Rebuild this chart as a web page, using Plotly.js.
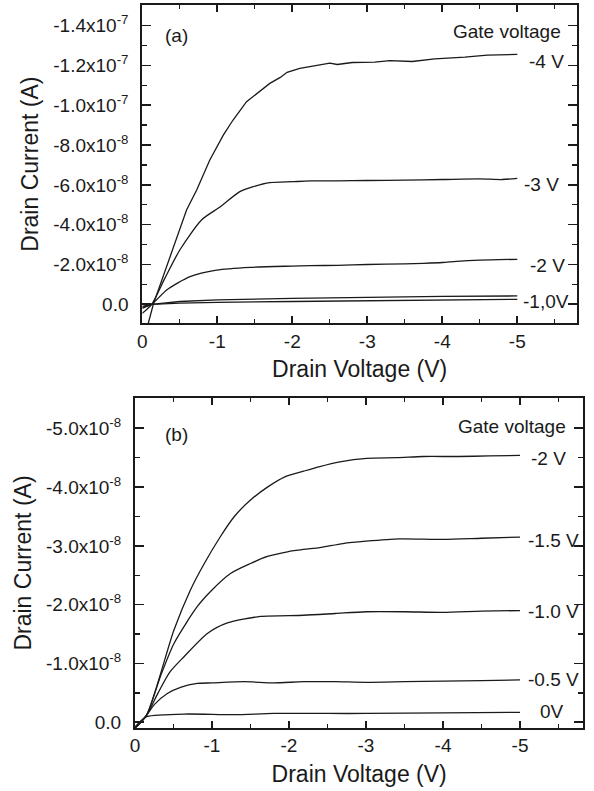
<!DOCTYPE html>
<html>
<head>
<meta charset="utf-8">
<script src="https://cdn.plot.ly/plotly-3.0.1.min.js"></script>
<style>html,body{margin:0;padding:0;background:#fff;}#chart{width:594px;height:791px;}</style>
</head>
<body>
<div id="chart"></div>
<script>
// ---------- Panel (a) data ----------
const vA_m4 = [0, -0.08, -0.147, -0.325, -0.46, -0.59, -0.725, -0.9, -1.08, -1.21, -1.39, -1.525, -1.7, -1.84, -1.93, -2.1, -2.24, -2.5, -2.6, -2.8, -3.1, -3.3, -3.6, -3.9, -4.3, -4.6, -5.0];
const iA_m4 = [1.5e-8, 0.95e-8, 0, -1.89e-8, -3.4e-8, -4.74e-8, -5.74e-8, -7.25e-8, -8.5e-8, -9.26e-8, -10.18e-8, -10.6e-8, -11.1e-8, -11.4e-8, -11.66e-8, -11.86e-8, -11.94e-8, -12.12e-8, -12.05e-8, -12.15e-8, -12.17e-8, -12.24e-8, -12.2e-8, -12.33e-8, -12.42e-8, -12.52e-8, -12.56e-8];
const vA_m3 = [0, -0.125, -0.3, -0.5, -0.79, -1.04, -1.3, -1.48, -1.7, -2.0, -2.24, -2.6, -3.0, -3.5, -4.0, -4.5, -4.8, -5.0];
const iA_m3 = [0.45e-8, 0, -1.3e-8, -2.73e-8, -4.24e-8, -4.9e-8, -5.66e-8, -5.91e-8, -6.11e-8, -6.16e-8, -6.2e-8, -6.2e-8, -6.22e-8, -6.24e-8, -6.27e-8, -6.3e-8, -6.27e-8, -6.33e-8];
const vA_m2 = [0, -0.125, -0.325, -0.636, -0.99, -1.44, -2.0, -2.24, -2.6, -3.0, -3.5, -3.75, -4.0, -4.19, -4.5, -5.0];
const iA_m2 = [0.2e-8, 0, -0.72e-8, -1.39e-8, -1.72e-8, -1.86e-8, -1.92e-8, -1.94e-8, -1.96e-8, -2.0e-8, -2.03e-8, -2.06e-8, -2.1e-8, -2.16e-8, -2.22e-8, -2.26e-8];
const vA_m1 = [0, -0.125, -0.5, -1, -2, -3, -4, -5];
const iA_m1 = [0.15e-8, 0, -0.14e-8, -0.22e-8, -0.3e-8, -0.36e-8, -0.4e-8, -0.42e-8];
const vA_0 = [0, -0.125, -0.5, -1, -2, -3, -4, -5];
const iA_0 = [0.1e-8, 0, -0.06e-8, -0.1e-8, -0.14e-8, -0.17e-8, -0.2e-8, -0.25e-8];

// ---------- Panel (b) data ----------
const vB_m2 = [0, -0.15, -0.506, -0.72, -0.9, -1.11, -1.29, -1.5, -1.72, -1.94, -2.19, -2.4, -2.66, -3.01, -3.4, -3.74, -4.2, -4.6, -5.0];
const iB_m2 = [0.1e-8, -0.12e-8, -1.57e-8, -2.25e-8, -2.70e-8, -3.16e-8, -3.5e-8, -3.78e-8, -4.0e-8, -4.17e-8, -4.27e-8, -4.35e-8, -4.43e-8, -4.49e-8, -4.5e-8, -4.52e-8, -4.52e-8, -4.53e-8, -4.54e-8];
const vB_m15 = [0, -0.15, -0.33, -0.506, -0.81, -1.0, -1.24, -1.5, -1.72, -1.98, -2.19, -2.4, -2.7, -3.0, -3.44, -4.0, -4.5, -5.0];
const iB_m15 = [0.1e-8, -0.12e-8, -0.78e-8, -1.34e-8, -1.97e-8, -2.25e-8, -2.53e-8, -2.70e-8, -2.82e-8, -2.9e-8, -2.94e-8, -2.97e-8, -3.04e-8, -3.08e-8, -3.12e-8, -3.11e-8, -3.13e-8, -3.15e-8];
const vB_m10 = [0, -0.15, -0.3, -0.45, -0.64, -0.94, -1.2, -1.63, -2.19, -2.6, -3.0, -3.5, -4.0, -4.5, -5.0];
const iB_m10 = [0.1e-8, -0.12e-8, -0.5e-8, -0.85e-8, -1.12e-8, -1.51e-8, -1.69e-8, -1.80e-8, -1.82e-8, -1.85e-8, -1.88e-8, -1.88e-8, -1.87e-8, -1.89e-8, -1.90e-8];
const vB_m05 = [0, -0.15, -0.25, -0.42, -0.6, -0.81, -1.0, -1.42, -1.8, -2.19, -2.6, -3.0, -3.5, -4.0, -4.5, -5.0];
const iB_m05 = [0.1e-8, -0.12e-8, -0.3e-8, -0.49e-8, -0.6e-8, -0.66e-8, -0.67e-8, -0.69e-8, -0.67e-8, -0.69e-8, -0.69e-8, -0.68e-8, -0.69e-8, -0.7e-8, -0.71e-8, -0.72e-8];
const vB_0 = [0, -0.1, -0.16, -0.64, -1.29, -1.8, -2.5, -3.0, -4.0, -5.0];
const iB_0 = [0.08e-8, -0.05e-8, -0.1e-8, -0.14e-8, -0.13e-8, -0.15e-8, -0.15e-8, -0.15e-8, -0.16e-8, -0.17e-8];

// ---------- Tick labels ----------
const xTickVals = [0, -1, -2, -3, -4, -5];
const xTickText = ['0', '-1', '-2', '-3', '-4', '-5'];
const yTickValsA = [0, -2e-8, -4e-8, -6e-8, -8e-8, -1.0e-7, -1.2e-7, -1.4e-7];
const yTickTextA = ['0.0', '-2.0x10<sup>-8</sup>', '-4.0x10<sup>-8</sup>', '-6.0x10<sup>-8</sup>', '-8.0x10<sup>-8</sup>', '-1.0x10<sup>-7</sup>', '-1.2x10<sup>-7</sup>', '-1.4x10<sup>-7</sup>'];
const yTickValsB = [0, -1e-8, -2e-8, -3e-8, -4e-8, -5e-8];
const yTickTextB = ['0.0', '-1.0x10<sup>-8</sup>', '-2.0x10<sup>-8</sup>', '-3.0x10<sup>-8</sup>', '-4.0x10<sup>-8</sup>', '-5.0x10<sup>-8</sup>'];

const FONT = '"Liberation Sans", Arial, Helvetica, sans-serif';
const INK = '#1a1a1a';

function tr(x, y, xa, ya, shape) {
  return {x: x, y: y, type: 'scatter', mode: 'lines',
    line: {color: INK, width: 1.3, shape: shape, smoothing: 0.7},
    xaxis: xa, yaxis: ya, showlegend: false, hoverinfo: 'skip'};
}
const data = [
  tr(vA_m4, iA_m4, 'x', 'y', 'linear'), tr(vA_m3, iA_m3, 'x', 'y', 'spline'), tr(vA_m2, iA_m2, 'x', 'y', 'spline'),
  tr(vA_m1, iA_m1, 'x', 'y', 'linear'), tr(vA_0, iA_0, 'x', 'y', 'linear'),
  tr(vB_m2, iB_m2, 'x2', 'y2', 'spline'), tr(vB_m15, iB_m15, 'x2', 'y2', 'spline'), tr(vB_m10, iB_m10, 'x2', 'y2', 'spline'),
  tr(vB_m05, iB_m05, 'x2', 'y2', 'spline'), tr(vB_0, iB_0, 'x2', 'y2', 'spline')
];

function common(len, mlen, minorDt) {
  return {
    ticks: 'inside', ticklen: len, tickwidth: 1.6, tickcolor: INK,
    minor: {tickmode: 'linear', tick0: 0, dtick: minorDt, ticks: 'inside', ticklen: mlen, tickwidth: 1.4, tickcolor: INK, showgrid: false},
    showline: true, linewidth: 2, linecolor: INK, mirror: 'allticks',
    showgrid: false, zeroline: false,
    automargin: false, fixedrange: true
  };
}
function xax(domain, range, anchor) {
  return Object.assign(common(7, 4, 0.5), {
    domain: domain, range: range, anchor: anchor,
    tickmode: 'array', tickvals: xTickVals, ticktext: xTickText,
    tickfont: {family: FONT, size: 19, color: INK},
    title: {text: 'Drain Voltage (V)', font: {family: FONT, size: 23, color: INK}, standoff: 10}
  });
}
function yax(domain, range, anchor, vals, text, minorDt) {
  return Object.assign(common(9, 5, minorDt), {
    domain: domain, range: range, anchor: anchor,
    tickmode: 'array', tickvals: vals, ticktext: text,
    tickfont: {family: FONT, size: 19, color: INK},
    ticklabelstandoff: 8,
    title: {text: 'Drain Current (A)', font: {family: FONT, size: 23, color: INK}, standoff: 8}
  });
}

function ann(text, x, y, xref, yref, xanchor) {
  return {text: text, x: x, y: y, xref: xref, yref: yref, xanchor: xanchor, yanchor: 'middle', showarrow: false,
    font: {family: FONT, size: 19, color: INK}};
}

const layout = {
  width: 594, height: 791,
  margin: {l: 0, r: 0, t: 0, b: 0},
  paper_bgcolor: '#fff', plot_bgcolor: '#fff',
  showlegend: false,
  xaxis: xax([0.23956, 0.97138], [0, -5.796], 'y'),
  yaxis: yax([0.59128, 0.99368], [0.955e-8, -1.504e-7], 'x', yTickValsA, yTickTextA, 1e-8),
  xaxis2: xax([0.22727, 0.98199], [0, -5.822], 'y2'),
  yaxis2: yax([0.08003, 0.49646], [0.092e-8, -5.51e-8], 'x2', yTickValsB, yTickTextB, 0.5e-8),
  annotations: [
    ann('(a)', -0.28, -13.53e-8, 'x', 'y', 'left'),
    ann('Gate voltage', -5.61, -13.70e-8, 'x', 'y', 'right'),
    ann('-4 V', -5.13, -12.19e-8, 'x', 'y', 'left'),
    ann('-3 V', -5.06, -6.0e-8, 'x', 'y', 'left'),
    ann('-2 V', -5.14, -1.97e-8, 'x', 'y', 'left'),
    ann('-1,0V', -5.05, -0.13e-8, 'x', 'y', 'left'),
    ann('(b)', -0.36, -4.89e-8, 'x2', 'y2', 'left'),
    ann('Gate voltage', -5.62, -5.03e-8, 'x2', 'y2', 'right'),
    ann('-2 V', -5.12, -4.49e-8, 'x2', 'y2', 'left'),
    ann('-1.5 V', -5.08, -3.10e-8, 'x2', 'y2', 'left'),
    ann('-1.0 V', -5.08, -1.88e-8, 'x2', 'y2', 'left'),
    ann('-0.5 V', -5.08, -0.72e-8, 'x2', 'y2', 'left'),
    ann('0V', -5.23, -0.18e-8, 'x2', 'y2', 'left')
  ]
};

Plotly.newPlot('chart', data, layout, {staticPlot: true, displayModeBar: false});
</script>
</body>
</html>
